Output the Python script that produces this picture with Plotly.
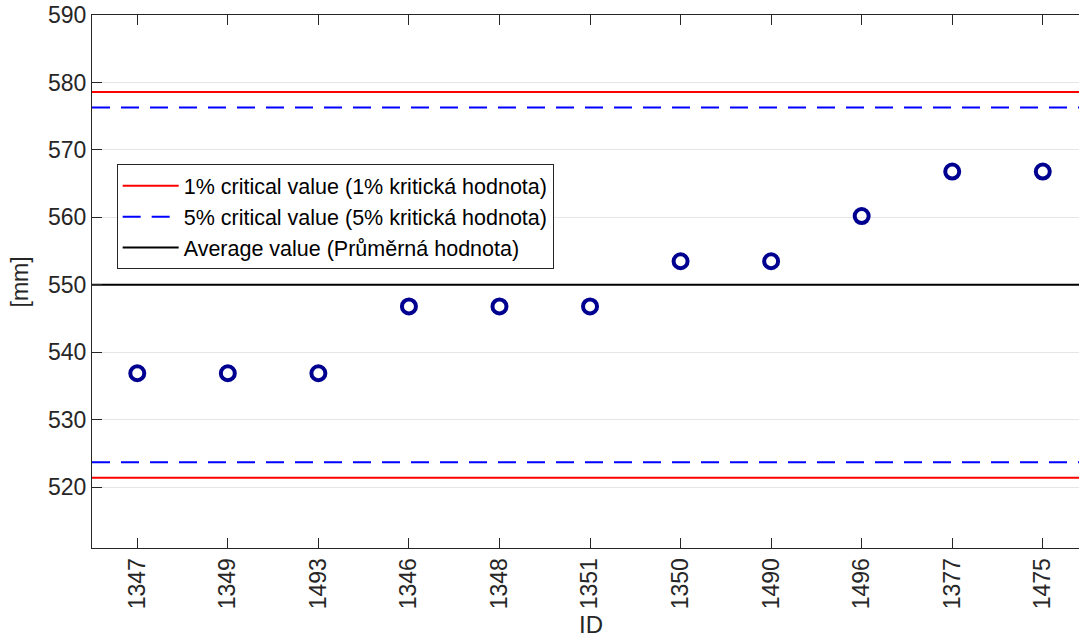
import plotly.graph_objects as go

ids = ["1347", "1349", "1493", "1346", "1348", "1351", "1350", "1490", "1496", "1377", "1475"]
values = [536.9, 536.9, 536.9, 546.8, 546.8, 546.8, 553.5, 553.5, 560.2, 566.8, 566.8]
average_value = 550.0
crit1_lower, crit1_upper = 521.4, 578.6
crit5_lower, crit5_upper = 523.7, 576.3

positions = list(range(1, len(ids) + 1))
x_span = [0.5, len(ids) + 0.5]

FONT = "Liberation Sans, Arial, sans-serif"
TXT = "#262626"

fig = go.Figure()

# 1% critical lines
fig.add_trace(go.Scatter(x=x_span, y=[crit1_upper] * 2, mode="lines",
                         line=dict(color="#FF0000", width=2),
                         name="1% critical value (1% kritická hodnota)",
                         legendgroup="c1", showlegend=True, hoverinfo="skip"))
fig.add_trace(go.Scatter(x=x_span, y=[crit1_lower] * 2, mode="lines",
                         line=dict(color="#FF0000", width=2),
                         name="1% critical value (1% kritická hodnota)",
                         legendgroup="c1", showlegend=False, hoverinfo="skip"))
# 5% critical lines
fig.add_trace(go.Scatter(x=x_span, y=[crit5_upper] * 2, mode="lines",
                         line=dict(color="#0000FF", width=2, dash="18px,11px"),
                         name="5% critical value (5% kritická hodnota)",
                         legendgroup="c5", showlegend=True, hoverinfo="skip"))
fig.add_trace(go.Scatter(x=x_span, y=[crit5_lower] * 2, mode="lines",
                         line=dict(color="#0000FF", width=2, dash="18px,11px"),
                         name="5% critical value (5% kritická hodnota)",
                         legendgroup="c5", showlegend=False, hoverinfo="skip"))
# Average
fig.add_trace(go.Scatter(x=x_span, y=[average_value] * 2, mode="lines",
                         line=dict(color="#000000", width=2),
                         name="Average value (Průměrná hodnota)",
                         showlegend=True, hoverinfo="skip"))
# Data points
fig.add_trace(go.Scatter(x=positions, y=values, mode="markers",
                         marker=dict(symbol="circle-open", size=14, color="#000090",
                                     line=dict(width=4, color="#000090")),
                         showlegend=False, name="data"))

fig.update_layout(
    width=1080, height=641,
    margin=dict(l=92, r=1, t=15, b=93, autoexpand=False),
    plot_bgcolor="white", paper_bgcolor="white",
    font=dict(family=FONT, color=TXT, size=23),
    legend=dict(x=0.025, y=0.72, xanchor="left", yanchor="top",
                bgcolor="white", bordercolor=TXT, borderwidth=1,
                font=dict(family=FONT, size=21.5, color="#000000"),
                tracegroupgap=0, itemwidth=56),
    annotations=[
        dict(text="ID", xref="paper", yref="paper", x=0.506, y=-0.1735,
             xanchor="center", yanchor="bottom", showarrow=False,
             font=dict(family=FONT, size=24, color=TXT)),
        dict(text="[mm]", xref="paper", x=-0.073, yref="paper", y=0.5,
             xanchor="center", yanchor="middle", showarrow=False, textangle=-90,
             font=dict(family=FONT, size=23, color=TXT)),
    ],
)

fig.update_xaxes(
    range=[0.5, 11.4], tickmode="array", tickvals=positions, ticktext=ids,
    tickangle=-90, ticks="inside", ticklen=10, tickcolor=TXT, tickwidth=1,
    showline=True, linecolor=TXT, linewidth=1, mirror="ticks",
    showgrid=False, zeroline=False, automargin=False,
    tickfont=dict(family=FONT, size=23, color=TXT),
)
fig.update_yaxes(
    range=[511, 590], tickmode="array", tickvals=[520, 530, 540, 550, 560, 570, 580, 590],
    ticks="inside", ticklen=10, tickcolor=TXT, tickwidth=1,
    showline=True, linecolor=TXT, linewidth=1,
    showgrid=True, gridcolor="#e6e6e6", gridwidth=1, zeroline=False, automargin=False,
    tickfont=dict(family=FONT, size=23, color=TXT),
)

fig.write_html("out.html", config={"displayModeBar": False},
               post_script="document.body.style.margin='0';document.body.style.overflow='hidden';")
